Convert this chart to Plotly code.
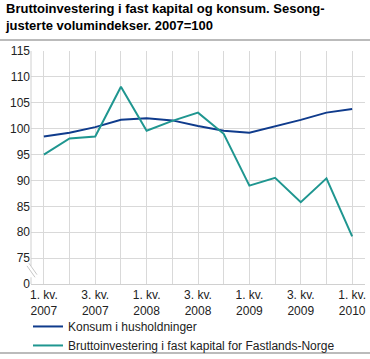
import plotly.graph_objects as go

quarters = ["1. kv. 2007", "2. kv. 2007", "3. kv. 2007", "4. kv. 2007",
            "1. kv. 2008", "2. kv. 2008", "3. kv. 2008", "4. kv. 2008",
            "1. kv. 2009", "2. kv. 2009", "3. kv. 2009", "4. kv. 2009",
            "1. kv. 2010"]
tick_labels = ["1. kv.<br>2007", "", "3. kv.<br>2007", "", "1. kv.<br>2008", "",
               "3. kv.<br>2008", "", "1. kv.<br>2009", "", "3. kv.<br>2009", "",
               "1. kv.<br>2010"]
konsum = [98.5, 99.2, 100.3, 101.7, 102.0, 101.6, 100.5, 99.6, 99.2, 100.4, 101.7, 103.1, 103.8]
investering = [95.0, 98.1, 98.5, 108.1, 99.6, 101.5, 103.1, 99.0, 89.0, 90.5, 85.8, 90.4, 79.2]
y_tickvals = [70, 75, 80, 85, 90, 95, 100, 105, 110, 115]
y_ticktext = ["0", "75", "80", "85", "90", "95", "100", "105", "110", "115"]

font = "Arial, Liberation Sans, sans-serif"
x = list(range(len(quarters)))

fig = go.Figure()
fig.add_trace(go.Scatter(x=x, y=konsum, mode="lines", name="Konsum i husholdninger",
                         line=dict(color="#0f3b8c", width=2), text=quarters,
                         hovertemplate="%{text}: %{y}<extra></extra>"))
fig.add_trace(go.Scatter(x=x, y=investering, mode="lines",
                         name="Bruttoinvestering i fast kapital for Fastlands-Norge",
                         line=dict(color="#1f9690", width=2), text=quarters,
                         hovertemplate="%{text}: %{y}<extra></extra>"))

fig.update_layout(
    width=370, height=359,
    margin=dict(l=31, r=5, t=51, b=75, autoexpand=False),
    paper_bgcolor="white", plot_bgcolor="white",
    font=dict(family=font, size=12, color="#222222"),
    showlegend=True,
    legend=dict(x=-0.009, y=-0.12, xanchor="left", yanchor="top",
                orientation="v", font=dict(size=12, color="#222222"),
                bgcolor="rgba(0,0,0,0)", tracegroupgap=0),
    xaxis=dict(range=[-0.5, 12.5], tickvals=x, ticktext=tick_labels,
               showgrid=True, gridcolor="#d9d9d9", gridwidth=1,
               showline=True, linecolor="#d0d0d0", linewidth=1,
               ticks="", zeroline=False, tickfont=dict(size=12, color="#222222"),
               ticklabelstandoff=0, automargin=False, fixedrange=True),
    yaxis=dict(range=[70, 115], tickvals=y_tickvals, ticktext=y_ticktext,
               showgrid=True, gridcolor="#d9d9d9", gridwidth=1,
               showline=False, ticks="", zeroline=False, automargin=False,
               tickfont=dict(size=12, color="#222222"), fixedrange=True),
    annotations=[dict(text="<b>Bruttoinvestering i fast kapital og konsum. Sesong-<br>justerte volumindekser. 2007=100</b>",
                      xref="paper", yref="paper", x=-0.084, y=1.222,
                      xanchor="left", yanchor="top", align="left", showarrow=False,
                      font=dict(size=13, color="#000000", family=font))],
    shapes=[
        dict(type="line", xref="paper", yref="paper", x0=-0.093, x1=1.015, y0=1.047, y1=1.047,
             line=dict(color="#bbbbbb", width=2)),
        dict(type="line", xref="paper", yref="paper", x0=-0.093, x1=1.015, y0=-0.296, y1=-0.296,
             line=dict(color="#bbbbbb", width=2)),
        # y-axis line in two parts with a break
        dict(type="line", xref="paper", yref="y", x0=0, x1=0, y0=73.5, y1=115,
             line=dict(color="#d0d0d0", width=1)),
        dict(type="line", xref="paper", yref="y", x0=0, x1=0, y0=70, y1=71.3,
             line=dict(color="#d0d0d0", width=1)),
        dict(type="line", xref="paper", yref="y", x0=-0.012, x1=0.012, y0=73.5, y1=71.3,
             line=dict(color="#c8c8c8", width=1)),
        dict(type="line", xref="paper", yref="y", x0=-0.006, x1=0.018, y0=74.0, y1=71.8,
             line=dict(color="#c8c8c8", width=1)),
    ],
)

fig.write_html("out.html", config={"displayModeBar": False},
               post_script="document.body.style.margin='0';document.body.style.overflow='hidden';")
